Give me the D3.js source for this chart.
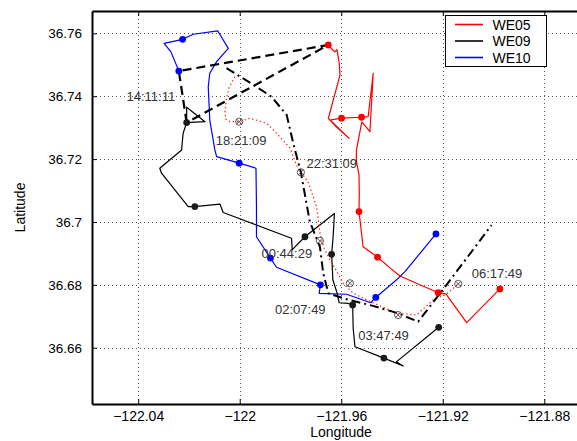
<!DOCTYPE html>
<html><head><meta charset="utf-8">
<script src="https://cdn.jsdelivr.net/npm/d3@7"></script>
<style>
body{margin:0;background:#fff}
svg{display:block}
text{font-family:"Liberation Sans",Arial,Helvetica,sans-serif}
</style>
</head><body>
<svg id="c" width="577" height="441"></svg>
<script>
// ---------- data ----------
const xTickValues = [-122.04, -122, -121.96, -121.92, -121.88];
const xTickLabels = ["\u2212122.04", "\u2212122", "\u2212121.96", "\u2212121.92", "\u2212121.88"];
const yTickValues = [36.66, 36.68, 36.70, 36.72, 36.74, 36.76];
const yTickLabels = ["36.66", "36.68", "36.7", "36.72", "36.74", "36.76"];
const xLimits = [-122.0582, -121.8620];
const yLimits = [36.6421, 36.7671];

const seriesNames = ["WE05", "WE09", "WE10"];

const we05Track = [
  [-121.9651,36.7563],[-121.9637,36.7550],[-121.9625,36.7541],[-121.9617,36.7548],[-121.9608,36.7505],
  [-121.9605,36.7467],[-121.9651,36.7329],[-121.9633,36.7316],[-121.9569,36.7266],[-121.9625,36.7307],
  [-121.9645,36.7324],[-121.9599,36.7330],[-121.9520,36.7333],[-121.9494,36.7335],[-121.9474,36.7473],
  [-121.9487,36.7287],[-121.9519,36.7318],[-121.9540,36.7229],[-121.9541,36.7197],[-121.9530,36.7149],
  [-121.9529,36.7091],[-121.9530,36.7033],[-121.9514,36.6921],[-121.9457,36.6888],[-121.9408,36.6854],
  [-121.9369,36.6828],[-121.9218,36.6775],[-121.9188,36.6771],[-121.9106,36.6680],[-121.8975,36.6787]
];
const we05MarkerIdx = [0, 11, 12, 21, 23, 26, 29];

const we09Track = [
  [-122.0209,36.7316],[-122.0209,36.7365],[-122.0137,36.7319],[-122.0209,36.7316],[-122.0223,36.7282],
  [-122.0229,36.7229],[-122.0315,36.7171],[-122.0308,36.7155],[-122.0203,36.7049],[-122.0177,36.7049],
  [-122.0078,36.7057],[-122.0065,36.7030],[-121.9796,36.6948],[-121.9793,36.6912],[-121.9743,36.6953],
  [-121.9627,36.7027],[-121.9632,36.6953],[-121.9638,36.6897],[-121.9633,36.6816],[-121.9618,36.6778],
  [-121.9608,36.6743],[-121.9573,36.6741],[-121.9555,36.6736],[-121.9553,36.6662],[-121.9546,36.6603],
  [-121.9432,36.6567],[-121.9356,36.6542],[-121.9383,36.6555],[-121.9216,36.6665]
];
const we09MarkerIdx = [0, 9, 14, 17, 22, 25, 28];

const we10Track = [
  [-122.0240,36.7480],[-122.0251,36.7502],[-122.0271,36.7541],[-122.0298,36.7568],[-122.0225,36.7581],
  [-122.0183,36.7597],[-122.0087,36.7608],[-122.0045,36.7552],[-122.0091,36.7510],[-122.0118,36.7473],
  [-122.0124,36.7430],[-122.0118,36.7324],[-122.0098,36.7229],[-122.0091,36.7208],[-122.0002,36.7187],
  [-121.9936,36.7171],[-121.9934,36.7049],[-121.9934,36.6953],[-121.9879,36.6885],[-121.9855,36.6856],
  [-121.9682,36.6800],[-121.9687,36.6773],[-121.9579,36.6770],[-121.9484,36.6743],[-121.9464,36.6760],
  [-121.9382,36.6816],[-121.9349,36.6842],[-121.9227,36.6962]
];
const we10MarkerIdx = [0, 4, 14, 18, 20, 24, 27];

// positions of the three drifters at 14:11:11 (dashed triangle)
const startTriangle = [[-122.0209,36.7316],[-122.0240,36.7480],[-121.9651,36.7563],[-122.0209,36.7316]];

// dash-dot black path
const dashDotPath = [
  [-122.0052,36.7489],[-121.9934,36.7430],[-121.9874,36.7398],[-121.9815,36.7340],[-121.9789,36.7250],
  [-121.9759,36.7158],[-121.9724,36.7001],[-121.9684,36.6921],[-121.9671,36.6837],[-121.9651,36.6773],
  [-121.9574,36.6753],[-121.9479,36.6734],[-121.9382,36.6711],[-121.9297,36.6683],[-121.9185,36.6800],
  [-121.9008,36.6990]
];

// red dotted path
const redDottedPath = [
  [-122.0019,36.7462],[-122.0043,36.7426],[-122.0053,36.7388],[-122.0058,36.7350],[-122.0055,36.7327],
  [-122.0039,36.7319],[-122.0002,36.7319],[-121.9960,36.7330],[-121.9894,36.7314],[-121.9855,36.7282],
  [-121.9802,36.7235],[-121.9775,36.7178],[-121.9731,36.7127],[-121.9697,36.7049],[-121.9684,36.6965],
  [-121.9668,36.6917],[-121.9645,36.6879],[-121.9618,36.6844],[-121.9594,36.6806],[-121.9554,36.6774],
  [-121.9487,36.6747],[-121.9382,36.6710],[-121.9303,36.6704],[-121.9238,36.6752],[-121.9185,36.6771],
  [-121.9139,36.6803]
];

// circled-x markers
const crossMarkers = [
  [-122.0002,36.7319],[-121.9759,36.7158],[-121.9684,36.6940],
  [-121.9566,36.6805],[-121.9376,36.6704],[-121.9139,36.6803]
];

// time labels (text start, baseline) in lon/lat
const timeLabels = ["14:11:11","18:21:09","22:31:09","00:44:29","02:07:49","03:47:49","06:17:49"];
const timeLabelPos = [
  [-122.0446,36.7385],[-122.0094,36.7246],[-121.9737,36.7172],[-121.9914,36.6886],
  [-121.9861,36.6706],[-121.9533,36.6626],[-121.9086,36.6822]
];

// ---------- drawing ----------
const svg = d3.select("#c");
const m = {left:92, top:11, right:590, bottom:404};
const x = d3.scaleLinear().domain(xLimits).range([m.left, m.right]);
const y = d3.scaleLinear().domain(yLimits).range([m.bottom, m.top]);

svg.append("rect").attr("width",577).attr("height",441).attr("fill","#fff");

svg.append("defs").append("clipPath").attr("id","clip")
  .append("rect").attr("x",m.left).attr("y",m.top).attr("width",m.right-m.left).attr("height",m.bottom-m.top);

// grid
const grid = svg.append("g").attr("stroke","#555").attr("stroke-width",1).attr("stroke-dasharray","1,3");
grid.selectAll("line.gx").data(xTickValues).join("line")
  .attr("x1",d=>Math.round(x(d))+0.5).attr("x2",d=>Math.round(x(d))+0.5)
  .attr("y1",m.top).attr("y2",m.bottom);
grid.selectAll("line.gy").data(yTickValues).join("line")
  .attr("y1",d=>Math.round(y(d))+0.5).attr("y2",d=>Math.round(y(d))+0.5)
  .attr("x1",m.left).attr("x2",m.right);

const plot = svg.append("g").attr("clip-path","url(#clip)");
const line = d3.line().x(d=>x(d[0])).y(d=>y(d[1]));

const colors = {WE05:"#ff0000", WE09:"#000000", WE10:"#0000ff"};
const tracks = [
  {name:"WE05", pts:we05Track, idx:we05MarkerIdx},
  {name:"WE09", pts:we09Track, idx:we09MarkerIdx},
  {name:"WE10", pts:we10Track, idx:we10MarkerIdx}
];

tracks.forEach(t=>{
  plot.append("path").attr("d",line(t.pts)).attr("fill","none")
    .attr("stroke",colors[t.name]).attr("stroke-width",1.2).attr("stroke-linejoin","round");
});

// red dotted
plot.append("path").attr("d",line(redDottedPath)).attr("fill","none")
  .attr("stroke","#ff2a2a").attr("stroke-width",1.3).attr("stroke-dasharray","1.4,2.6");

// dash-dot black
plot.append("path").attr("d",line(dashDotPath)).attr("fill","none")
  .attr("stroke","#000").attr("stroke-width",2).attr("stroke-dasharray","9,4,2,4");

// dashed triangle
plot.append("path").attr("d",line(startTriangle)).attr("fill","none")
  .attr("stroke","#000").attr("stroke-width",2.2).attr("stroke-dasharray","9,5");

// dots
tracks.forEach(t=>{
  plot.selectAll(null).data(t.idx.map(i=>t.pts[i])).join("circle")
    .attr("cx",d=>x(d[0])).attr("cy",d=>y(d[1])).attr("r",3.4)
    .attr("fill",t.name==="WE09"?"#1a1a1a":colors[t.name]);
});

// circled x
const cm = plot.selectAll(null).data(crossMarkers).join("g")
  .attr("transform",d=>`translate(${x(d[0])},${y(d[1])})`)
  .attr("stroke","#333").attr("stroke-width",0.8).attr("fill","none");
cm.append("circle").attr("r",3.6);
cm.append("path").attr("d","M-2.5,-2.5L2.5,2.5M-2.5,2.5L2.5,-2.5");

// time labels
svg.selectAll("text.tl").data(timeLabels).join("text")
  .attr("class","tl")
  .attr("x",(d,i)=>x(timeLabelPos[i][0])).attr("y",(d,i)=>y(timeLabelPos[i][1]))
  .attr("font-size",13).attr("fill","#333").text(d=>d);

// axes
function styleAxis(g, fs){
  g.attr("font-family",null).attr("font-size",null);
  g.select(".domain").attr("stroke","#000").attr("stroke-width",2);
  g.selectAll(".tick line").attr("stroke","#000").attr("stroke-width",1);
  g.selectAll(".tick text").attr("fill","#000").attr("font-size",fs)
   .attr("font-family",'"Liberation Sans",Arial,Helvetica,sans-serif');
}
svg.append("g").attr("transform",`translate(0,${m.bottom})`)
  .call(d3.axisBottom(x).tickValues(xTickValues).tickFormat((d,i)=>xTickLabels[i])
    .tickSizeInner(-5).tickSizeOuter(0).tickPadding(7)).call(styleAxis, 14);
svg.append("g").attr("transform",`translate(0,${m.top})`)
  .call(d3.axisTop(x).tickValues(xTickValues).tickFormat(()=>"")
    .tickSizeInner(-5).tickSizeOuter(0)).call(styleAxis, 13);
svg.append("g").attr("transform",`translate(${m.left},0)`)
  .call(d3.axisLeft(y).tickValues(yTickValues).tickFormat((d,i)=>yTickLabels[i])
    .tickSizeInner(-5).tickSizeOuter(0).tickPadding(10)).call(styleAxis, 13.5);

// axis titles
svg.append("text").attr("x",341).attr("y",437)
  .attr("text-anchor","middle").attr("font-size",14).text("Longitude");
svg.append("text").attr("transform",`translate(25,${(m.top+m.bottom)/2}) rotate(-90)`)
  .attr("text-anchor","middle").attr("font-size",14).text("Latitude");

// legend
const lg = svg.append("g");
lg.append("rect").attr("x",445.5).attr("y",15.5).attr("width",101).attr("height",51)
  .attr("fill","#fff").attr("stroke","#000").attr("stroke-width",1);
const rowY = [24.5, 41, 57.5];
seriesNames.forEach((n,i)=>{
  lg.append("line").attr("x1",455).attr("x2",483).attr("y1",rowY[i]).attr("y2",rowY[i])
    .attr("stroke",colors[n]).attr("stroke-width",1.6);
  lg.append("text").attr("x",492.5).attr("y",rowY[i]).attr("dy","0.36em")
    .attr("font-size",14).attr("fill","#000").text(n);
});
</script>
</body></html>
